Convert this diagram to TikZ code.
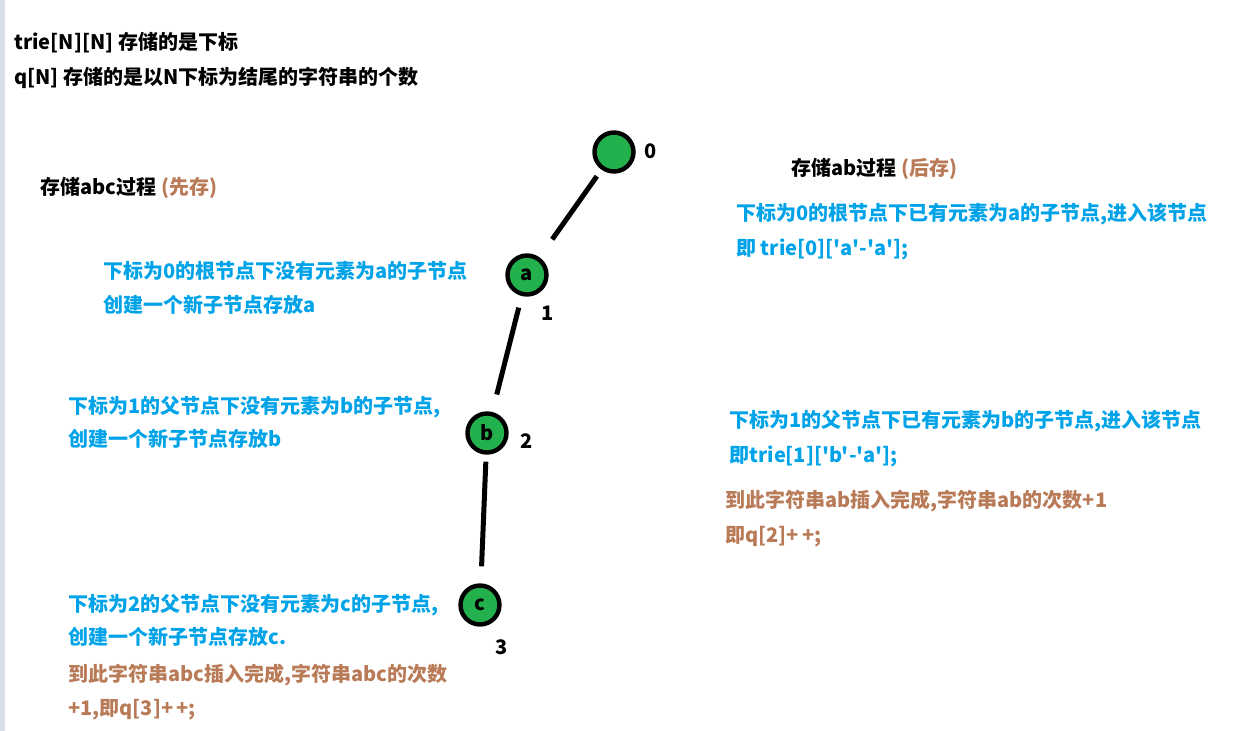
\documentclass[tikz,border=0pt]{standalone}
\usepackage{fontspec}
\setmainfont{Noto Sans CJK SC}[Ligatures=TeXOff]
\usepackage{tikz}
\usetikzlibrary{positioning}

\definecolor{trieGreen}{RGB}{34,177,76}
\definecolor{noteBlue}{RGB}{0,162,232}
\definecolor{noteBrown}{RGB}{185,122,87}
\definecolor{sideBar}{RGB}{214,222,235}

\begin{document}
\begin{tikzpicture}
[
x=0.5pt, y=-0.5pt,
every node/.style={font=\bfseries\fontsize{10}{17.5}\selectfont, inner sep=0pt},
trienode/.style={circle, draw, line width=2.2pt, fill=trieGreen, minimum size=19.5pt},
idx/.style={anchor=base},
plain/.style={anchor=base west},
note/.style={anchor=base west, text=noteBlue},
done/.style={anchor=base west, text=noteBrown},
edge/.style={line width=2.5pt}
]
\useasboundingbox (0,0) rectangle (1242,731);
\fill[sideBar] (0,0) rectangle (5,731);

% the trie
\node[trienode] (root) at (614,152) {};
\node[trienode] (na) at (527,275) {a};
\node[trienode] (nb) at (487,433) {b};
\node[trienode] (nc) at (480,605) {c};
\node[idx] (i0) at (651,159) {0};
\node[idx] (i1) at (548,321) {1};
\node[idx] (i2) at (527,449) {2};
\node[idx] (i3) at (502,654) {3};
\draw[edge, shorten <=4pt, shorten >=11pt] (root) -- (na);
\draw[edge, shorten <=6pt, shorten >=9pt] (na) -- (nb);
\draw[edge, shorten <=3.5pt, shorten >=8.5pt] (nb) -- (nc);

% header
\node[plain] (head1) at (14,50) {trie[N][N] 存储的是下标};
\node[plain] (head2) at (14,85) {q[N] 存储的是以N下标为结尾的字符串的个数};

% storing abc
\node[plain] (abcHead) at (40,195) {存储abc过程 \textcolor{noteBrown}{(先存)}};
\node[note] (stepA1) at (103,279) {下标为0的根节点下没有元素为a的子节点};
\node[note] (stepA2) at (103,313) {创建一个新子节点存放a};
\node[note] (stepB1) at (68,414) {下标为1的父节点下没有元素为b的子节点,};
\node[note] (stepB2) at (68,447) {创建一个新子节点存放b};
\node[note] (stepC1) at (68,611) {下标为2的父节点下没有元素为c的子节点,};
\node[note] (stepC2) at (68,645) {创建一个新子节点存放c.};
\node[done] (doneC1) at (68,681) {到此字符串abc插入完成,字符串abc的次数};
\node[done] (doneC2) at (68,715) {+1,即q[3]+\,+;};

% storing ab
\node[plain] (abHead) at (791,176) {存储ab过程 \textcolor{noteBrown}{(后存)}};
\node[note] (seenA1) at (736,221) {下标为0的根节点下已有元素为a的子节点,进入该节点};
\node[note] (seenA2) at (736,256) {即 trie[0]['a'-'a'];};
\node[note] (seenB1) at (729,428) {下标为1的父节点下已有元素为b的子节点,进入该节点};
\node[note] (seenB2) at (729,463) {即trie[1]['b'-'a'];};
\node[done] (doneB1) at (725,508) {到此字符串ab插入完成,字符串ab的次数+1};
\node[done] (doneB2) at (725,543) {即q[2]+\,+;};
\end{tikzpicture}
\end{document}
